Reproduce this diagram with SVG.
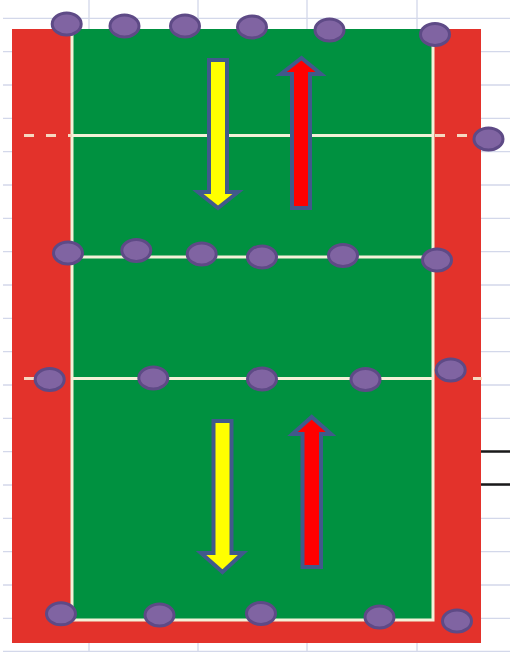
<svg xmlns="http://www.w3.org/2000/svg" width="510" height="652" viewBox="0 0 510 652">
<style>
.grid{stroke:#d3d8ea;stroke-width:1.3}
.court{stroke:#f3f1d8;stroke-width:3;fill:none}
.dash{stroke:#f6d8c0;stroke-width:3;stroke-dasharray:10 12}
.p{fill:#8064a2;stroke:#5e4a86;stroke-width:3}
.arr{stroke:#41598b;stroke-width:4;stroke-linejoin:miter}
</style>
<rect width="510" height="652" fill="#ffffff"/>
<g id="grid">
<path class="grid" d="M3 18.3H510M3 51.6H510M3 85H510M3 118.3H510M3 151.6H510M3 185H510M3 218.3H510M3 251.6H510M3 285H510M3 318.3H510M3 351.6H510M3 385H510M3 418.3H510M3 451.6H510M3 485H510M3 518.3H510M3 551.6H510M3 585H510M3 618.3H510M3 651.3H510M89 0V652M198 0V652M307 0V652M417 0V652"/>
<path d="M481 451.6H510M481 484.6H510" stroke="#1a1a1a" stroke-width="2.5"/>
</g>
<g id="court">
<rect x="12" y="29" width="469" height="614" fill="#e3322b"/>
<rect x="72" y="29" width="361" height="591" fill="#009140"/>
<path class="court" d="M72 29V620H433V29"/>
<path class="court" d="M72 135.5H433M72 257H433M72 378.5H433"/>
<path class="dash" d="M24 135.5H72"/>
<path class="dash" d="M435 135.5H470"/>
<path class="dash" d="M24 378.5H36"/>
<path class="dash" d="M473 378.5H482"/>
</g>
<g id="arrows">
<polygon id="arrow-yellow-top" class="arr" fill="#ffff00" points="209,60 227,60 227,192 238,192 218,208 198,192 209,192"/>
<polygon id="arrow-red-top" class="arr" fill="#ff0000" points="292,208 310,208 310,74 321,74 301.5,58 281,74 292,74"/>
<polygon id="arrow-yellow-bottom" class="arr" fill="#ffff00" points="213.5,421 231.5,421 231.5,553 243,553 222.5,572 201,553 213.5,553"/>
<polygon id="arrow-red-bottom" class="arr" fill="#ff0000" points="302.5,567 321,567 321,434 331,434 311.7,417 292.5,434 302.5,434"/>
</g>
<g id="players">
<ellipse id="p1" class="p" cx="66.7" cy="24" rx="14.5" ry="11"/>
<ellipse id="p2" class="p" cx="124.5" cy="26" rx="14.5" ry="11"/>
<ellipse id="p3" class="p" cx="185" cy="26" rx="14.5" ry="11"/>
<ellipse id="p4" class="p" cx="252" cy="27" rx="14.5" ry="11"/>
<ellipse id="p5" class="p" cx="329.5" cy="30" rx="14.5" ry="11"/>
<ellipse id="p6" class="p" cx="435" cy="34.5" rx="14.5" ry="11"/>
<ellipse id="p7" class="p" cx="488.5" cy="139" rx="14.5" ry="11"/>
<ellipse id="p8" class="p" cx="68" cy="253" rx="14.5" ry="11"/>
<ellipse id="p9" class="p" cx="136.3" cy="250.5" rx="14.5" ry="11"/>
<ellipse id="p10" class="p" cx="201.7" cy="254" rx="14.5" ry="11"/>
<ellipse id="p11" class="p" cx="262" cy="257" rx="14.5" ry="11"/>
<ellipse id="p12" class="p" cx="343" cy="255.5" rx="14.5" ry="11"/>
<ellipse id="p13" class="p" cx="437" cy="260" rx="14.5" ry="11"/>
<ellipse id="p14" class="p" cx="49.7" cy="379.5" rx="14.5" ry="11"/>
<ellipse id="p15" class="p" cx="153.3" cy="378" rx="14.5" ry="11"/>
<ellipse id="p16" class="p" cx="262" cy="379" rx="14.5" ry="11"/>
<ellipse id="p17" class="p" cx="365.5" cy="379.5" rx="14.5" ry="11"/>
<ellipse id="p18" class="p" cx="450.7" cy="370" rx="14.5" ry="11"/>
<ellipse id="p19" class="p" cx="61" cy="613.8" rx="14.5" ry="11"/>
<ellipse id="p20" class="p" cx="159.5" cy="615" rx="14.5" ry="11"/>
<ellipse id="p21" class="p" cx="261" cy="613.5" rx="14.5" ry="11"/>
<ellipse id="p22" class="p" cx="379.5" cy="617" rx="14.5" ry="11"/>
<ellipse id="p23" class="p" cx="457" cy="621" rx="14.5" ry="11"/>
</g>
</svg>
